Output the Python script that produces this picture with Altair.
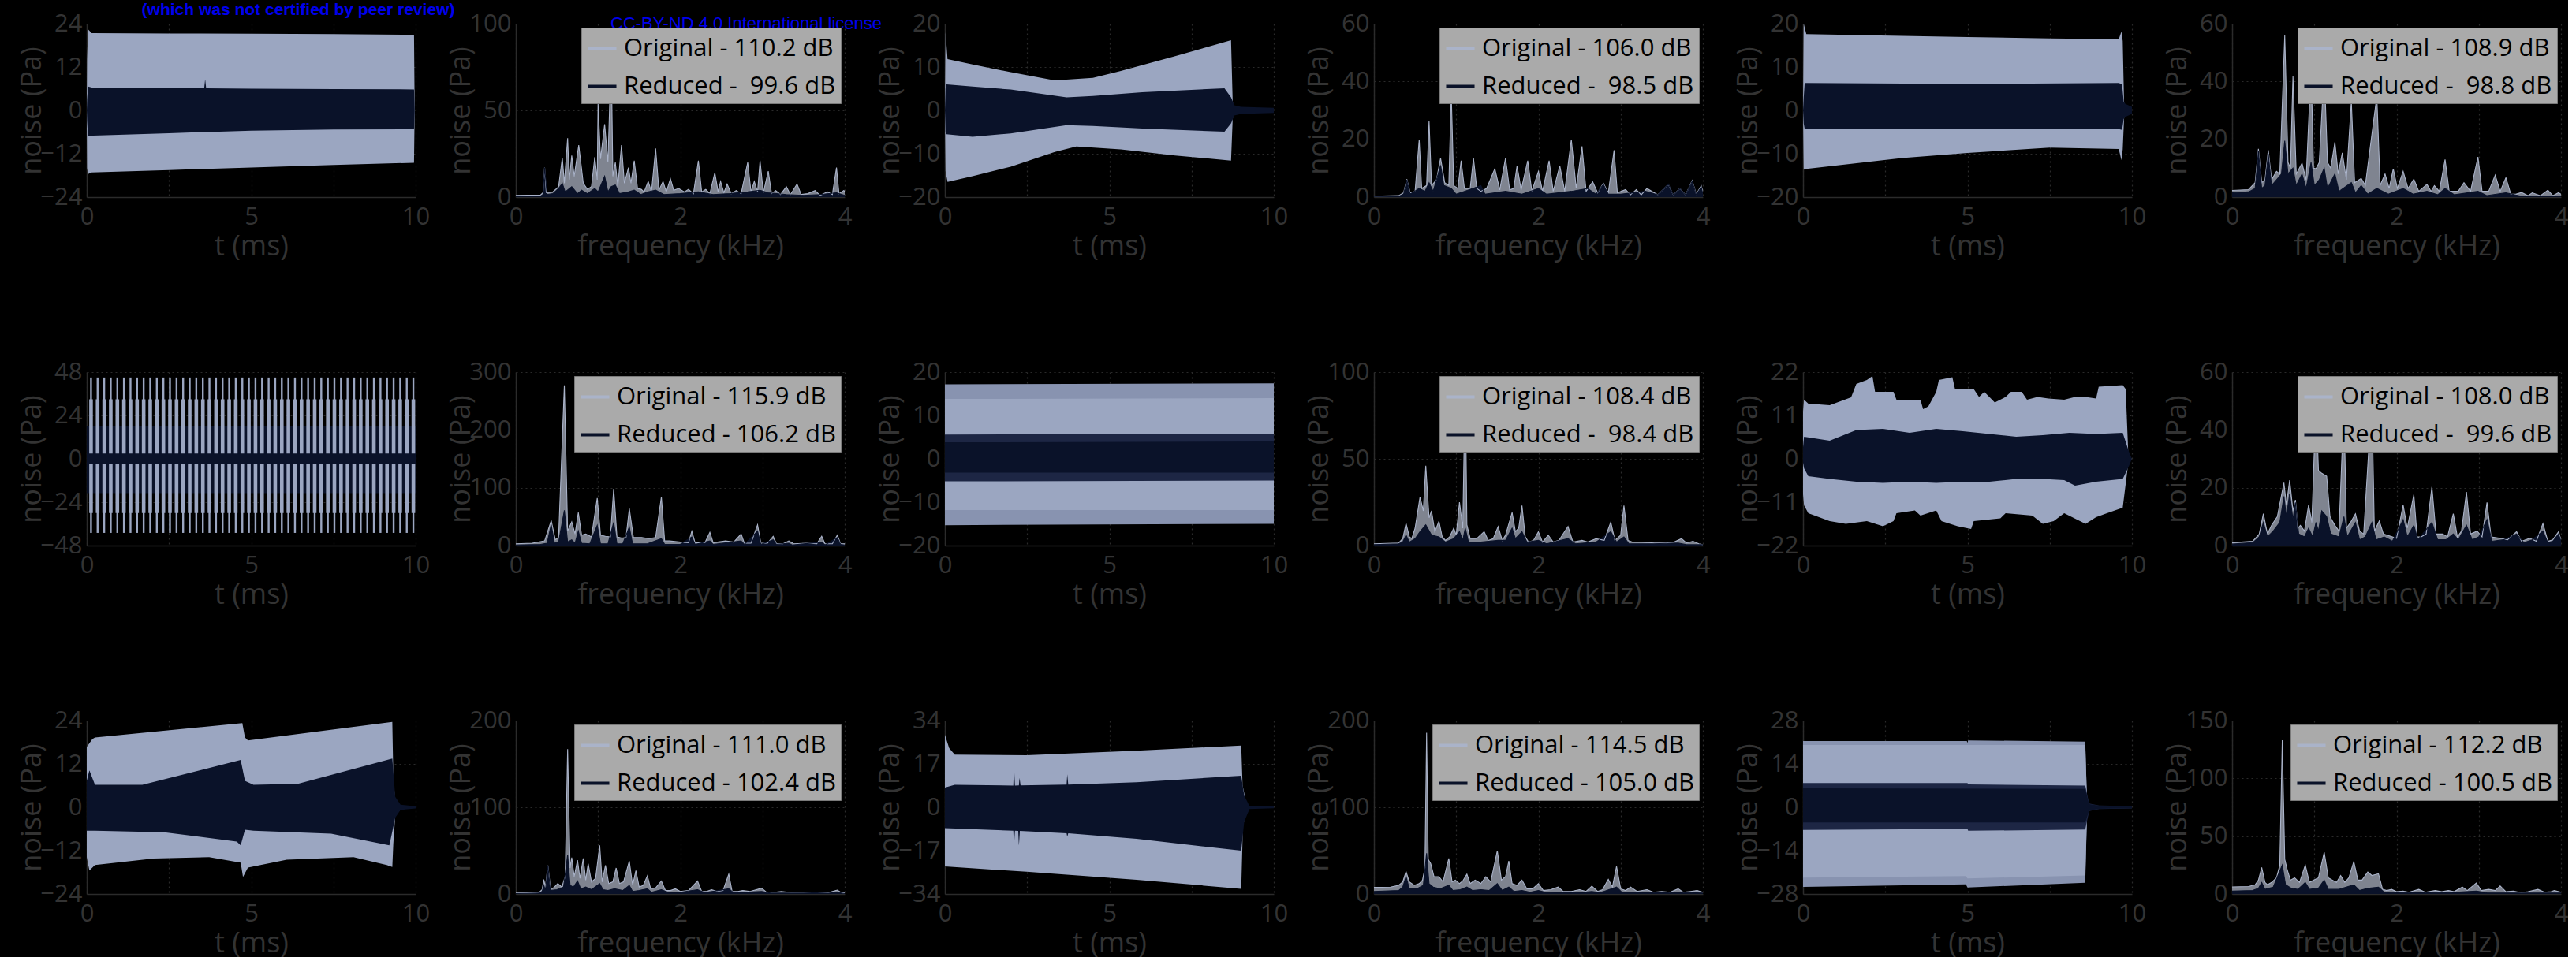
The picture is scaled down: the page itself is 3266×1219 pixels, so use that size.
import altair as alt
import pandas as pd

# ---------------------------------------------------------------- styling
FONT = "Open Sans"
BG = "#000000"
TXT = "#333333"
AXIS_LINE = "#2b2b2b"
GRID = "#2a2a2a"
ORIG_FILL = "#9ba6c1"      # original waveform envelope
ORIG_TEX = "#8893b0"       # textured (fine-oscillation) rim of the original envelope
RED_FILL = "#0a1229"       # reduced waveform envelope
RED_TEX = "#1d2644"
SPEC_FILL = "#7f8490"      # original spectrum
SPEC_LINE = "#aab3c9"
LEG_BG = "#aaaaaa"
LEG_EDGE = "#7a7a7a"
BLUE = "#0000ee"
PANEL_W, PANEL_H = 417, 220

# ---------------------------------------------------------------- preprint header text
HEADER_1 = "(which was not certified by peer review)"
HEADER_2 = "CC-BY-ND 4.0 International license"

# ---------------------------------------------------------------- time signals: envelopes (t in ms, Pa)
T1_ORIG_UP = [(0, 0), (0.01, 14), (0.04, 22.4), (0.15, 21.4), (2.5, 21.3), (5, 21.2), (7.5, 21.1), (9.95, 20.9), (9.97, 0)]
T1_ORIG_LO = [(0, 0), (0.01, -16), (0.04, -17.6), (0.15, -17.2), (2.5, -16.5), (5, -15.8), (7.5, -15.1), (9.95, -14.5), (9.97, 0)]
T1_RED_UP = [(0, 0), (0.01, 3), (0.04, 6.6), (0.2, 6.2), (3.57, 6.1), (3.6, 8.6), (3.63, 6.1), (5, 6.0), (7.5, 5.9), (9.95, 5.8), (9.97, 0)]
T1_RED_LO = [(0, 0), (0.01, -3), (0.04, -7.2), (0.2, -7.0), (2.5, -6.3), (5, -5.6), (7.5, -5.3), (9.95, -5.2), (9.97, 0)]

T2_ORIG_UP = [(0, 0), (0.02, 18), (0.08, 11.8), (0.84, 10.6), (2.0, 8.8), (3.34, 6.9), (4.5, 7.5), (5.35, 9.1), (7.0, 12.5), (8.7, 16.2), (8.75, 2), (8.8, 0)]
T2_ORIG_LO = [(0, 0), (0.02, -14), (0.08, -16.5), (0.84, -15.2), (2.0, -13.0), (3.34, -9.6), (4.0, -8.3), (5.35, -9.0), (7.0, -10.4), (8.7, -11.6), (8.75, -2), (8.8, 0)]
T2_RED_UP = [(0, 0), (0.02, 5), (0.05, 6.0), (0.84, 5.5), (2.0, 4.8), (3.7, 3.0), (4.5, 3.3), (6.0, 4.2), (8.5, 5.1), (8.7, 3.0), (8.8, 1.2), (9.0, 0.8), (10, 0.6)]
T2_RED_LO = [(0, 0), (0.02, -5), (0.05, -5.5), (0.84, -6.1), (2.0, -5.3), (3.7, -3.4), (4.5, -3.6), (6.0, -4.2), (8.5, -4.9), (8.7, -3.0), (8.8, -1.2), (9.0, -0.8), (10, -0.6)]

T3_ORIG_UP = [(0, 0), (0.02, 20), (0.1, 17.6), (3.0, 17.2), (5.0, 16.9), (7.5, 16.6), (9.6, 16.4), (9.68, 18.2), (9.72, 16), (9.76, 2), (9.8, 0)]
T3_ORIG_LO = [(0, 0), (0.02, -13.7), (0.1, -13.5), (3.0, -11.0), (5.0, -9.8), (7.5, -8.6), (9.6, -8.9), (9.68, -11.5), (9.72, -9), (9.76, -2), (9.8, 0)]
T3_RED_UP = [(0, 0), (0.02, 3), (0.05, 6.3), (5, 6.1), (9.6, 6.3), (9.7, 6.0), (9.75, 2.0), (9.8, 1.5), (10, 0.8)]
T3_RED_LO = [(0, 0), (0.02, -3), (0.05, -4.3), (5, -4.3), (9.6, -4.3), (9.7, -4.5), (9.75, -2.0), (9.8, -1.5), (10, -0.8)]

# periodic pressure pulses of the original signal (ms) and their extent (Pa)
T4_SPIKES = [0.13, 0.33, 0.53, 0.73, 0.93, 1.13, 1.33, 1.53, 1.73, 1.93,
             2.13, 2.33, 2.53, 2.73, 2.93, 3.13, 3.33, 3.53, 3.73, 3.93,
             4.13, 4.33, 4.53, 4.73, 4.93, 5.13, 5.33, 5.53, 5.73, 5.93,
             6.13, 6.33, 6.53, 6.73, 6.93, 7.13, 7.33, 7.53, 7.73, 7.93,
             8.13, 8.33, 8.53, 8.73, 8.93, 9.13, 9.33, 9.53, 9.73, 9.93]
T4_SPIKE_FULL = (-41, 45)
T4_SPIKE_BODY = (-30, 33)
T4_RED_UP = [(0, 18), (10, 18)]
T4_RED_LO = [(0, -19), (10, -19)]
T4_RED_CORE_UP = [(0, 3), (10, 3)]
T4_RED_CORE_LO = [(0, -3), (10, -3)]

T5_ORIG_UP_RIM = [(0, 17.2), (10, 17.4)]
T5_ORIG_UP = [(0, 13.8), (10, 14.0)]
T5_ORIG_LO_RIM = [(0, -15.3), (10, -15.0)]
T5_ORIG_LO = [(0, -11.8), (10, -11.8)]
T5_RED_UP_RIM = [(0, 5.6), (10, 5.8)]
T5_RED_UP = [(0, 3.8), (10, 4.0)]
T5_RED_LO_RIM = [(0, -5.2), (10, -5.0)]
T5_RED_LO = [(0, -3.2), (10, -3.2)]

T6_ORIG_UP = [(0, 12), (0.03, 15.0), (0.16, 14.0), (0.81, 13.6), (1.46, 15.6), (1.62, 19.0), (1.94, 20.0), (2.11, 21.0),
              (2.19, 17.0), (2.75, 17.0), (2.84, 15.0), (3.57, 15.0), (3.65, 12.6), (3.81, 13.3), (4.05, 17.0),
              (4.13, 20.0), (4.54, 20.7), (4.62, 17.7), (5.19, 17.7), (5.35, 15.7), (5.51, 17.0), (5.83, 14.3),
              (6.16, 15.7), (6.32, 17.0), (6.65, 17.0), (6.81, 15.0), (7.13, 15.7), (7.46, 15.3), (7.94, 15.0),
              (8.27, 15.7), (8.59, 15.7), (8.91, 15.3), (8.99, 18.3), (9.72, 18.7), (9.81, 17.7), (9.89, 1.0), (10, 0)]
T6_ORIG_LO = [(0, -9), (0.03, -11.8), (0.16, -13.8), (0.81, -15.8), (1.3, -16.5), (1.94, -15.8), (2.43, -17.1),
              (2.75, -15.8), (2.84, -13.8), (3.4, -13.1), (3.57, -14.4), (4.05, -13.1), (4.21, -15.8), (4.7, -17.1),
              (5.11, -17.8), (5.19, -15.8), (6.0, -15.1), (6.16, -13.8), (6.97, -14.4), (7.29, -16.5), (7.62, -15.8),
              (7.94, -13.8), (8.59, -16.5), (8.91, -14.8), (9.24, -13.8), (9.72, -12.4), (9.89, -1.0), (10, 0)]
T6_RED_UP = [(0, 3), (0.03, 5.6), (0.81, 4.6), (1.62, 7.3), (2.43, 7.6), (3.24, 6.6), (4.05, 7.6), (4.86, 7.0),
             (5.67, 6.3), (6.48, 5.6), (7.29, 6.0), (8.1, 6.6), (8.91, 6.3), (9.72, 6.6), (9.9, 2), (10, 0)]
T6_RED_LO = [(0, -1), (0.03, -2.4), (0.16, -4.4), (0.81, -5.1), (1.62, -5.8), (2.43, -6.1), (3.24, -5.8), (4.05, -6.1),
             (4.86, -5.8), (5.67, -5.8), (6.48, -5.1), (7.29, -5.1), (7.94, -5.4), (8.27, -6.8), (8.91, -5.8),
             (9.72, -5.1), (9.9, -2), (10, 0)]

T7_ORIG_UP = [(0, 16.7), (0.17, 18.9), (0.25, 19.3), (4.73, 23.3), (4.81, 19.3), (4.9, 18.5), (9.29, 23.6), (9.32, 8.7),
              (9.38, 1.5), (9.54, 0.4), (10, 0)]
T7_ORIG_LO = [(0, -13.8), (0.08, -17.5), (0.25, -16.0), (2.03, -14.2), (3.72, -13.8), (4.68, -15.3), (4.75, -19.3),
              (4.9, -16.7), (6.08, -14.5), (8.11, -13.8), (9.12, -16.0), (9.29, -16.5), (9.32, -10.2), (9.38, -2.2),
              (9.54, -0.6), (10, 0)]
T7_RED_UP = [(0, 7.3), (0.08, 10.2), (0.25, 6.2), (1.69, 6.2), (4.68, 13.1), (4.81, 7.3), (5.07, 6.2), (6.42, 6.5),
             (9.29, 13.5), (9.38, 2.9), (9.54, 0.7), (10, 0.3)]
T7_RED_LO = [(0, -6.5), (0.25, -6.5), (2.36, -6.9), (4.56, -9.5), (4.68, -10.5), (4.81, -6.2), (5.07, -6.5),
             (7.43, -7.3), (9.2, -10.5), (9.38, -2.9), (9.54, -0.7), (10, -0.3)]

T8_ORIG_UP = [(0, 28.4), (0.13, 23.2), (0.3, 20.6), (2.48, 20.4), (5.83, 22.2), (9.01, 24.2), (9.05, 8.8), (9.18, 0.5), (10, 0)]
T8_ORIG_LO = [(0, -23.2), (2.48, -25.3), (5.83, -28.4), (9.01, -32.0), (9.06, -7.7), (9.18, -0.5), (10, 0)]
T8_RED_UP = [(0, 7.7), (0.3, 8.8), (2.08, 8.5), (2.1, 16.0), (2.13, 8.5), (2.25, 8.6), (2.27, 11.5), (2.3, 8.6),
             (3.7, 8.9), (3.72, 12.9), (3.75, 8.9), (5.83, 9.8), (9.01, 12.4), (9.1, 4.6), (9.26, 0.5), (10, 0.4)]
T8_RED_LO = [(0, -8.2), (2.08, -9.2), (2.1, -15.0), (2.13, -9.2), (2.23, -9.3), (2.25, -15.0), (2.28, -9.3),
             (3.7, -10.2), (3.72, -11.5), (3.75, -10.2), (5.83, -12.4), (9.01, -17.0), (9.1, -5.7), (9.26, -0.7), (10, -0.4)]

T9_ORIG_UP_RIM = [(0, 21.4), (4.98, 21.4), (5.0, 20.8), (5.02, 21.6), (8.58, 21.2), (8.64, 0)]
T9_ORIG_UP = [(0, 20.1), (8.58, 20.1), (8.64, 0)]
T9_ORIG_LO_RIM = [(0, -25.7), (4.95, -24.9), (5.0, -25.9), (8.58, -24.4), (8.64, 0)]
T9_ORIG_LO = [(0, -22.7), (4.95, -22.2), (5.0, -23.0), (8.58, -22.0), (8.64, 0)]
T9_RED_UP_RIM = [(0, 7.8), (5.0, 7.8), (5.02, 7.4), (8.58, 7.0), (8.7, 1.2), (9.0, 0.6), (10, 0.4)]
T9_RED_UP = [(0, 6.1), (8.58, 5.9), (8.7, 1.0), (9.0, 0.5), (10, 0.3)]
T9_RED_LO_RIM = [(0, -7.3), (5.0, -7.0), (5.02, -7.6), (8.58, -7.2), (8.7, -1.2), (9.0, -0.6), (10, -0.4)]
T9_RED_LO = [(0, -4.9), (8.58, -4.9), (8.7, -1.0), (9.0, -0.5), (10, -0.3)]

# ---------------------------------------------------------------- spectra (f in kHz, amplitude in Pa)
F1_ORIG = [(0, 1.0), (0.3, 1.2), (0.33, 2.5), (0.35, 17), (0.37, 2.5), (0.45, 3), (0.52, 6), (0.565, 22.7), (0.59, 8),
           (0.63, 34), (0.65, 10), (0.68, 24), (0.71, 12), (0.765, 30), (0.82, 8), (0.87, 4.5), (0.92, 6), (0.96, 23),
           (0.99, 10), (1.0, 54), (1.03, 22), (1.08, 42), (1.12, 20), (1.16, 83), (1.18, 12), (1.21, 20), (1.24, 6),
           (1.285, 30), (1.32, 8), (1.37, 17), (1.40, 8), (1.44, 21), (1.48, 5), (1.525, 4.5), (1.56, 3), (1.61, 9),
           (1.65, 3), (1.70, 28), (1.74, 4), (1.79, 9), (1.83, 3), (1.88, 10.6), (1.92, 4), (1.98, 5), (2.05, 3),
           (2.10, 4.5), (2.16, 2), (2.22, 21), (2.26, 3), (2.31, 4.5), (2.36, 2), (2.42, 14), (2.46, 3), (2.49, 9),
           (2.53, 2.5), (2.57, 7.5), (2.62, 2), (2.68, 3.8), (2.74, 2), (2.82, 20), (2.86, 3), (2.90, 9), (2.94, 3),
           (2.97, 21), (3.01, 2.5), (3.07, 15), (3.11, 2), (3.16, 3.8), (3.22, 1.5), (3.29, 6), (3.34, 1.5), (3.42, 7.5),
           (3.47, 1.5), (3.55, 2), (3.64, 3.8), (3.70, 1), (3.79, 3), (3.85, 1.5), (3.90, 17), (3.93, 2), (3.99, 3.8), (4.0, 3)]
F1_RED = [(0, 0.5), (0.3, 0.6), (0.33, 1.5), (0.35, 17), (0.38, 1.5), (0.45, 2), (0.52, 5), (0.565, 8), (0.6, 3),
          (0.68, 6), (0.75, 2), (0.8, 4), (0.87, 2), (0.96, 5), (1.0, 3), (1.08, 12), (1.12, 3), (1.16, 6), (1.21, 7),
          (1.26, 2), (1.37, 3), (1.44, 4), (1.52, 1.5), (1.61, 3), (1.70, 4), (1.8, 1.5), (2.0, 2), (2.22, 3), (2.4, 1.5),
          (2.6, 2), (2.82, 3), (2.97, 4), (3.07, 2.5), (3.29, 1.5), (3.5, 1), (3.7, 1.5), (3.9, 2.5), (4.0, 1)]

F2_ORIG = [(0, 0.3), (0.3, 0.5), (0.36, 1.5), (0.40, 6.2), (0.44, 1.5), (0.5, 2), (0.55, 19.9), (0.58, 3), (0.64, 4),
           (0.67, 26.3), (0.70, 4), (0.76, 6), (0.81, 13.5), (0.86, 5), (0.91, 4), (0.94, 36), (0.97, 4), (1.02, 3),
           (1.06, 12.6), (1.10, 3), (1.17, 3), (1.21, 13.5), (1.25, 3), (1.3, 2), (1.37, 3), (1.47, 9.8), (1.53, 2.5),
           (1.60, 13.5), (1.65, 2.5), (1.70, 3), (1.74, 10.8), (1.79, 2.5), (1.87, 12.6), (1.92, 2), (2.0, 8.9),
           (2.05, 2), (2.13, 12.6), (2.18, 2), (2.26, 10.8), (2.32, 2), (2.40, 19.9), (2.46, 3), (2.53, 17.6),
           (2.58, 2), (2.66, 5.3), (2.72, 1.5), (2.79, 4.8), (2.85, 1.5), (2.92, 16.2), (2.96, 1.5), (3.06, 2.6),
           (3.12, 0.8), (3.19, 2.6), (3.25, 0.8), (3.32, 3), (3.45, 0.8), (3.58, 4.4), (3.64, 0.8), (3.72, 3),
           (3.79, 0.8), (3.87, 5.7), (3.92, 1), (3.98, 3.9), (4.0, 2)]
F2_RED = [(0, 0.2), (0.3, 0.3), (0.36, 1), (0.40, 6), (0.44, 1), (0.55, 3), (0.62, 2), (0.67, 5), (0.72, 2), (0.78, 8),
          (0.81, 11), (0.85, 4), (0.94, 3), (1.0, 1), (1.1, 2), (1.3, 4), (1.35, 1), (1.6, 2), (1.8, 1), (2.0, 3),
          (2.1, 1), (2.4, 2), (2.6, 3), (2.7, 1), (2.79, 4.4), (2.85, 1), (3.0, 1), (3.3, 2), (3.45, 0.8), (3.58, 4.5),
          (3.64, 0.8), (3.72, 3), (3.79, 0.8), (3.87, 5.5), (3.92, 0.8), (3.98, 3.5), (4.0, 1)]

F3_ORIG = [(0, 2.3), (0.2, 2.6), (0.28, 5), (0.32, 16.7), (0.36, 5), (0.40, 6), (0.44, 16.2), (0.48, 6), (0.54, 8.9),
           (0.58, 8), (0.64, 55.9), (0.68, 12), (0.71, 10), (0.74, 41.8), (0.78, 8), (0.85, 11.7), (0.90, 6),
           (0.96, 44.9), (0.99, 10), (1.02, 9.8), (1.06, 12), (1.12, 44.5), (1.16, 12), (1.20, 10), (1.25, 19),
           (1.29, 8), (1.34, 15.3), (1.39, 6), (1.45, 33.1), (1.49, 5), (1.57, 6.5), (1.62, 4), (1.76, 34.9), (1.80, 4),
           (1.86, 8), (1.91, 3), (1.96, 9.8), (2.01, 3), (2.08, 8.9), (2.14, 3), (2.21, 6.2), (2.27, 2), (2.37, 4.4),
           (2.42, 2), (2.46, 4), (2.52, 2), (2.59, 13), (2.64, 2), (2.75, 2), (2.82, 5), (2.9, 2), (2.99, 13.9),
           (3.04, 2), (3.12, 2), (3.2, 7.6), (3.26, 2), (3.33, 6.7), (3.39, 1), (3.45, 1), (3.52, 1.6), (3.6, 0.5),
           (3.65, 1.5), (3.75, 0.5), (3.84, 2.4), (3.9, 0.5), (3.97, 1.5), (4.0, 1)]
F3_RED = [(0, 1.5), (0.2, 1.8), (0.28, 3), (0.32, 16), (0.36, 3), (0.40, 4), (0.44, 15), (0.48, 4), (0.54, 6), (0.6, 8),
          (0.64, 19.5), (0.68, 8), (0.74, 10), (0.78, 4), (0.85, 8), (0.9, 3), (0.96, 12), (1.0, 4), (1.06, 6),
          (1.12, 10), (1.16, 3), (1.25, 8), (1.3, 2), (1.45, 5), (1.5, 1.5), (1.57, 4), (1.65, 1), (1.76, 3), (1.9, 1),
          (2.08, 3), (2.2, 1), (2.37, 2), (2.5, 0.8), (2.59, 3), (2.7, 0.8), (2.99, 2), (3.1, 0.5), (3.33, 1.5),
          (3.5, 0.4), (4.0, 0.4)]

F4_ORIG = [(0, 3), (0.2, 4), (0.35, 8), (0.43, 43), (0.48, 10), (0.52, 14), (0.59, 277), (0.63, 25), (0.68, 41),
           (0.72, 20), (0.76, 57), (0.80, 18), (0.85, 20), (0.92, 15), (0.99, 82), (1.03, 18), (1.09, 16), (1.15, 15),
           (1.19, 98), (1.23, 15), (1.29, 13), (1.34, 14), (1.38, 64), (1.43, 14), (1.53, 14), (1.62, 12), (1.70, 14),
           (1.77, 84), (1.81, 8), (1.87, 8), (2.0, 6), (2.1, 5), (2.14, 25), (2.18, 5), (2.3, 5), (2.36, 23), (2.4, 5),
           (2.55, 8), (2.65, 6), (2.74, 20), (2.78, 4), (2.86, 4), (2.94, 36), (2.98, 4), (3.06, 4), (3.13, 16),
           (3.17, 3), (3.25, 3), (3.32, 8), (3.38, 3), (3.54, 4), (3.66, 3), (3.72, 16), (3.76, 3), (3.85, 3),
           (3.91, 18), (3.95, 3), (4.0, 3)]
F4_RED = [(0, 1), (0.3, 2), (0.38, 4), (0.43, 36), (0.47, 4), (0.52, 6), (0.59, 61), (0.63, 6), (0.68, 10), (0.72, 4),
          (0.76, 25), (0.80, 4), (0.9, 3), (0.99, 35), (1.03, 3), (1.12, 3), (1.19, 40), (1.23, 3), (1.3, 3),
          (1.38, 32), (1.42, 3), (1.6, 3), (1.77, 12), (1.81, 2), (2.0, 2), (2.14, 15), (2.18, 2), (2.36, 8), (2.4, 2),
          (2.74, 8), (2.78, 2), (2.94, 25), (2.98, 2), (3.13, 10), (3.17, 2), (3.32, 4), (3.36, 1), (3.72, 6),
          (3.76, 1), (3.91, 14), (3.95, 2), (4.0, 1)]

F5_ORIG = [(0, 1), (0.3, 1.5), (0.35, 4), (0.39, 12.8), (0.43, 5), (0.46, 4), (0.5, 10), (0.56, 28), (0.60, 20),
           (0.63, 46), (0.67, 16), (0.70, 20), (0.74, 8), (0.79, 14), (0.83, 5), (0.87, 3), (0.92, 5), (0.97, 10),
           (1.0, 6), (1.04, 25), (1.08, 10), (1.11, 98), (1.13, 12), (1.17, 4), (1.25, 4), (1.34, 8), (1.39, 3),
           (1.45, 4), (1.51, 11), (1.56, 3), (1.6, 6), (1.68, 19), (1.72, 8), (1.76, 10), (1.80, 23), (1.84, 5),
           (1.88, 2), (1.94, 3), (2.0, 8), (2.05, 2), (2.12, 6), (2.18, 2), (2.25, 3), (2.36, 11), (2.42, 2),
           (2.53, 3), (2.6, 2), (2.7, 4), (2.8, 3), (2.88, 13.5), (2.93, 3), (3.0, 6), (3.04, 23), (3.09, 3),
           (3.14, 2), (3.25, 2), (3.41, 1.5), (3.55, 1.5), (3.65, 2), (3.74, 4), (3.8, 1.5), (3.88, 2.5), (3.95, 1),
           (4.0, 0.5)]
F5_RED = [(0, 0.5), (0.3, 1), (0.35, 2), (0.39, 6), (0.43, 2), (0.5, 4), (0.56, 8), (0.63, 12), (0.7, 6), (0.79, 5),
          (0.87, 2), (0.97, 4), (1.04, 8), (1.08, 3), (1.11, 10), (1.15, 2), (1.3, 2), (1.51, 3), (1.6, 3),
          (1.68, 10), (1.72, 4), (1.80, 8), (1.86, 2), (2.0, 3), (2.1, 1), (2.36, 4), (2.45, 1), (2.7, 2), (2.88, 8),
          (2.95, 2), (3.04, 5), (3.1, 1), (3.4, 1), (3.7, 1.5), (3.8, 0.5), (4.0, 0.5)]

F6_ORIG = [(0, 1), (0.25, 1.5), (0.33, 4), (0.38, 11), (0.43, 4), (0.48, 7), (0.55, 10), (0.63, 21.7), (0.66, 14),
           (0.70, 22.6), (0.74, 12), (0.77, 15.8), (0.80, 6), (0.83, 7), (0.88, 5), (0.93, 14), (0.97, 8),
           (1.02, 50.4), (1.05, 26), (1.09, 25), (1.15, 24), (1.19, 10), (1.25, 7), (1.30, 5), (1.36, 49), (1.39, 6),
           (1.44, 8), (1.5, 11), (1.55, 5), (1.6, 4), (1.70, 51.3), (1.73, 5), (1.79, 8.5), (1.84, 4), (1.95, 3),
           (2.0, 2.5), (2.08, 14), (2.13, 6), (2.21, 17.6), (2.25, 3), (2.30, 3), (2.36, 4), (2.43, 20.3), (2.48, 4),
           (2.56, 4), (2.62, 3), (2.69, 11), (2.74, 3), (2.79, 5), (2.85, 18.5), (2.90, 4), (2.98, 5), (3.04, 3),
           (3.10, 14.9), (3.15, 3), (3.26, 2.5), (3.35, 2), (3.46, 4.8), (3.52, 1.5), (3.62, 2.5), (3.7, 1.5),
           (3.78, 7.6), (3.84, 1.5), (3.9, 2), (3.97, 4.8), (4.0, 2)]
F6_RED = [(0, 0.5), (0.25, 1), (0.33, 3), (0.38, 8), (0.43, 3), (0.5, 5), (0.58, 8), (0.63, 17), (0.66, 10),
          (0.70, 18), (0.74, 9), (0.77, 14.9), (0.81, 4), (0.88, 3), (0.93, 6), (0.98, 3), (1.02, 8), (1.05, 5),
          (1.09, 12), (1.15, 10), (1.2, 4), (1.3, 3), (1.36, 10), (1.4, 3), (1.5, 8), (1.55, 2), (1.62, 3), (1.70, 8),
          (1.75, 2), (1.85, 3), (1.95, 1.5), (2.08, 9), (2.13, 3), (2.21, 7), (2.26, 2), (2.43, 8), (2.5, 2), (2.6, 2),
          (2.69, 4), (2.75, 2), (2.85, 7), (2.92, 2), (3.0, 3), (3.10, 9), (3.16, 1.5), (3.3, 2), (3.46, 4),
          (3.55, 1), (3.65, 2), (3.78, 5), (3.84, 1), (3.9, 1.5), (3.97, 4), (4.0, 1.5)]

F7_ORIG = [(0, 1), (0.28, 1.5), (0.32, 5), (0.34, 16.7), (0.36, 8), (0.39, 33), (0.42, 8), (0.44, 6), (0.47, 8),
           (0.51, 12), (0.56, 8), (0.60, 20), (0.63, 167), (0.66, 30), (0.68, 42), (0.71, 20), (0.75, 39), (0.78, 18),
           (0.82, 41), (0.85, 16), (0.88, 35), (0.92, 14), (0.97, 18), (1.02, 56), (1.05, 14), (1.09, 33), (1.13, 12),
           (1.18, 14), (1.22, 30), (1.26, 12), (1.31, 14), (1.38, 38), (1.42, 10), (1.46, 27), (1.5, 8), (1.55, 10),
           (1.60, 21), (1.64, 6), (1.70, 7), (1.77, 15), (1.82, 4), (1.88, 4), (1.94, 6), (2.0, 3), (2.1, 4),
           (2.21, 15), (2.26, 3), (2.32, 3), (2.38, 5), (2.45, 3), (2.52, 4), (2.59, 23), (2.63, 3), (2.7, 3),
           (2.76, 4), (2.85, 3), (2.99, 6.7), (3.05, 2), (3.15, 2), (3.23, 3), (3.35, 1.5), (3.5, 2), (3.64, 1.5),
           (3.8, 1.5), (3.91, 4.5), (3.96, 1.5), (4.0, 1)]
F7_RED = [(0, 0.5), (0.28, 1), (0.32, 3), (0.34, 10), (0.36, 4), (0.39, 33), (0.42, 4), (0.5, 5), (0.58, 8),
          (0.63, 45), (0.66, 10), (0.7, 8), (0.75, 15), (0.79, 6), (0.85, 8), (0.92, 5), (1.02, 12), (1.06, 5),
          (1.12, 4), (1.2, 6), (1.3, 4), (1.38, 10), (1.42, 3), (1.5, 4), (1.6, 6), (1.65, 2), (1.77, 5), (1.85, 2),
          (2.0, 2), (2.21, 5), (2.3, 1.5), (2.59, 6), (2.65, 1.5), (2.99, 3), (3.1, 1), (3.5, 1), (3.91, 2), (4.0, 0.5)]

F8_ORIG = [(0, 7.6), (0.2, 8), (0.3, 10), (0.35, 14), (0.39, 25.8), (0.43, 14), (0.49, 10), (0.55, 12), (0.59, 16),
           (0.62, 30), (0.64, 186), (0.66, 40), (0.69, 35), (0.73, 20), (0.79, 20), (0.84, 14), (0.91, 41), (0.95, 14),
           (0.99, 16), (1.04, 12), (1.08, 15), (1.13, 23), (1.17, 12), (1.23, 16), (1.30, 12), (1.36, 20), (1.42, 14),
           (1.50, 50), (1.55, 16), (1.6, 20), (1.64, 38), (1.68, 12), (1.74, 10), (1.80, 16), (1.86, 6), (1.93, 6),
           (2.0, 12), (2.06, 4), (2.15, 5), (2.24, 8), (2.3, 3), (2.4, 3), (2.5, 5), (2.58, 3), (2.65, 9), (2.72, 3),
           (2.78, 5), (2.85, 17), (2.90, 8), (2.95, 32), (3.0, 6), (3.06, 4), (3.12, 8), (3.2, 3), (3.32, 5), (3.4, 2),
           (3.5, 3), (3.6, 2), (3.7, 6), (3.76, 2), (3.85, 3), (3.93, 4), (4.0, 2)]
F8_RED = [(0, 3), (0.3, 4), (0.35, 8), (0.39, 20), (0.43, 6), (0.52, 6), (0.6, 10), (0.64, 47), (0.67, 12), (0.72, 8),
          (0.8, 6), (0.91, 10), (0.96, 4), (1.05, 5), (1.13, 8), (1.2, 4), (1.3, 5), (1.4, 4), (1.5, 12), (1.56, 4),
          (1.64, 8), (1.7, 3), (1.8, 4), (1.9, 2), (2.0, 4), (2.1, 1.5), (2.3, 2), (2.5, 1.5), (2.65, 3), (2.75, 1.5),
          (2.95, 8), (3.02, 1.5), (3.3, 1.5), (3.7, 2), (4.0, 1)]

F9_ORIG = [(0, 6.1), (0.2, 6.5), (0.28, 8), (0.32, 12), (0.36, 23), (0.40, 10), (0.43, 8), (0.48, 10), (0.54, 14),
           (0.58, 25), (0.61, 133), (0.64, 30), (0.67, 21), (0.71, 12), (0.76, 14), (0.82, 10), (0.89, 25), (0.94, 10),
           (0.99, 12), (1.05, 14), (1.12, 36), (1.17, 14), (1.22, 12), (1.27, 10), (1.32, 16), (1.37, 10), (1.42, 14),
           (1.48, 28), (1.53, 12), (1.58, 12), (1.65, 19), (1.7, 16), (1.78, 17.5), (1.83, 4), (1.88, 3), (1.94, 4),
           (2.0, 2), (2.08, 2.5), (2.15, 1.5), (2.27, 4), (2.35, 1.5), (2.47, 3), (2.55, 2), (2.63, 3), (2.7, 2),
           (2.8, 6), (2.86, 3), (2.97, 9.5), (3.03, 3), (3.12, 4), (3.2, 3), (3.26, 7), (3.33, 2), (3.42, 2.5),
           (3.52, 1), (3.6, 2), (3.72, 4), (3.8, 1.5), (3.88, 2), (3.92, 3), (4.0, 1.5)]
F9_RED = [(0, 2.5), (0.25, 3), (0.32, 5), (0.36, 10), (0.40, 4), (0.5, 6), (0.61, 25), (0.65, 8), (0.72, 5), (0.8, 4),
          (0.89, 10), (0.94, 4), (1.05, 5), (1.12, 12), (1.17, 4), (1.3, 4), (1.48, 8), (1.55, 3), (1.65, 5),
          (1.78, 6), (1.85, 1.5), (2.0, 1), (2.3, 1.5), (2.6, 1), (2.97, 2.5), (3.1, 1), (3.5, 0.8), (4.0, 0.8)]

# overall levels quoted in each spectrum legend (dB)
LEVEL_ORIG = ["110.2", "106.0", "108.9", "115.9", "108.4", "108.0", "111.0", "114.5", "112.2"]
LEVEL_RED = ["99.6", "98.5", "98.8", "106.2", "98.4", "99.6", "102.4", "105.0", "100.5"]

# axis ranges of each panel
TIME_LIM = [24, 20, 20, 48, 20, 22, 24, 34, 28]
SPEC_MAX = [100, 60, 60, 300, 100, 60, 200, 200, 150]
SPEC_STEP = [50, 20, 20, 100, 50, 20, 100, 100, 50]


# ---------------------------------------------------------------- builders
def time_enc(lim):
    x = alt.X("t:Q", scale=alt.Scale(domain=[0, 10], nice=False, zero=False),
              axis=alt.Axis(values=[0, 2.5, 5, 7.5, 10], format="d", title="t (ms)",
                            labelExpr="datum.value % 5 === 0 ? datum.label : ''"))
    y = alt.Y("v:Q", scale=alt.Scale(domain=[-lim, lim], nice=False, zero=False),
              axis=alt.Axis(values=[-lim, -lim / 2, 0, lim / 2, lim], format="d", title="noise (Pa)"))
    return x, y


def band(points, color, x, y):
    df = pd.DataFrame(points, columns=["t", "v"])
    return alt.Chart(df).mark_area(color=color, clip=True).encode(x=x, y=y, y2=alt.datum(0))


def time_panel(i, layers):
    x, y = time_enc(TIME_LIM[i])
    charts = [band(p, c, x, y) for p, c in layers]
    return charts, x, y


def spec_panel(i, orig, red):
    ymax, step = SPEC_MAX[i], SPEC_STEP[i]
    x = alt.X("f:Q", scale=alt.Scale(domain=[0, 4], nice=False, zero=False),
              axis=alt.Axis(values=[0, 1, 2, 3, 4], format="d", title="frequency (kHz)",
                            labelExpr="datum.value % 2 === 0 ? datum.label : ''"))
    y = alt.Y("a:Q", scale=alt.Scale(domain=[0, ymax], nice=False, zero=False),
              axis=alt.Axis(values=list(range(0, ymax + 1, step)), format="d", title="noise (Pa)"))
    lab_o = f"Original - {LEVEL_ORIG[i]} dB"
    lab_r = f"Reduced - {LEVEL_RED[i]} dB" if len(LEVEL_RED[i]) == 5 else f"Reduced - \u00a0{LEVEL_RED[i]} dB"
    d_o = pd.DataFrame(orig, columns=["f", "a"])
    d_o["s"] = lab_o
    d_r = pd.DataFrame(red, columns=["f", "a"])
    d_r["s"] = lab_r
    area_o = alt.Chart(d_o).mark_area(color=SPEC_FILL, clip=True).encode(x=x, y=y, y2=alt.datum(0))
    area_r = alt.Chart(d_r).mark_area(color=RED_FILL, clip=True).encode(x=x, y=y, y2=alt.datum(0))
    lines = alt.Chart(pd.concat([d_o, d_r], ignore_index=True)).mark_line(clip=True, strokeWidth=1.1).encode(
        x=x, y=y,
        stroke=alt.Stroke("s:N", scale=alt.Scale(domain=[lab_o, lab_r], range=[SPEC_LINE, RED_FILL]),
                          legend=alt.Legend(title=None, orient="top-right", offset=5, direction="vertical",
                                            fillColor=LEG_BG, strokeColor=LEG_EDGE, padding=6,
                                            labelFont=FONT, labelFontSize=31, labelColor="#000000",
                                            labelLimit=500, labelOffset=7, rowPadding=12,
                                            symbolType="stroke", symbolStrokeWidth=4, symbolSize=1300)))
    return alt.layer(area_o, area_r, lines).properties(width=PANEL_W, height=PANEL_H)


def finish(charts):
    return alt.layer(*charts).properties(width=PANEL_W, height=PANEL_H)


# ---------------------------------------------------------------- time panels
t1, x1, y1 = time_panel(0, [(T1_ORIG_UP, ORIG_FILL), (T1_ORIG_LO, ORIG_FILL), (T1_RED_UP, RED_FILL), (T1_RED_LO, RED_FILL)])
hdr1 = alt.Chart(pd.DataFrame({"s": [HEADER_1]})).mark_text(
    font="Liberation Sans", fontSize=21, fontWeight="bold", color=BLUE, align="center", baseline="alphabetic"
).encode(x=alt.value(268), y=alt.value(-11), text="s:N")
hdr2 = alt.Chart(pd.DataFrame({"s": [HEADER_2]})).mark_text(
    font="Liberation Sans", fontSize=22, color=BLUE, align="left", baseline="alphabetic"
).encode(x=alt.value(664), y=alt.value(7), text="s:N")
T1 = finish(t1 + [hdr1, hdr2])

T2 = finish(time_panel(1, [(T2_ORIG_UP, ORIG_FILL), (T2_ORIG_LO, ORIG_FILL), (T2_RED_UP, RED_FILL), (T2_RED_LO, RED_FILL)])[0])
T3 = finish(time_panel(2, [(T3_ORIG_UP, ORIG_FILL), (T3_ORIG_LO, ORIG_FILL), (T3_RED_UP, RED_FILL), (T3_RED_LO, RED_FILL)])[0])

t4, x4, y4 = time_panel(3, [(T4_RED_UP, RED_FILL), (T4_RED_LO, RED_FILL)])
n_spk = len(T4_SPIKES)
spk_full = pd.DataFrame({"t": T4_SPIKES, "v": [T4_SPIKE_FULL[0]] * n_spk, "v2": [T4_SPIKE_FULL[1]] * n_spk})
spk_body = pd.DataFrame({"t": T4_SPIKES, "v": [T4_SPIKE_BODY[0]] * n_spk, "v2": [T4_SPIKE_BODY[1]] * n_spk})
r_full = alt.Chart(spk_full).mark_rule(color=ORIG_FILL, strokeWidth=2.4, clip=True).encode(x=x4, y=y4, y2="v2:Q")
r_body = alt.Chart(spk_body).mark_rule(color=ORIG_FILL, strokeWidth=4.6, clip=True).encode(x=x4, y=y4, y2="v2:Q")
core = [band(T4_RED_CORE_UP, RED_FILL, x4, y4), band(T4_RED_CORE_LO, RED_FILL, x4, y4)]
T4 = finish(t4 + [r_full, r_body] + core)

T5 = finish(time_panel(4, [(T5_ORIG_UP_RIM, ORIG_TEX), (T5_ORIG_LO_RIM, ORIG_TEX), (T5_ORIG_UP, ORIG_FILL), (T5_ORIG_LO, ORIG_FILL),
                           (T5_RED_UP_RIM, RED_TEX), (T5_RED_LO_RIM, RED_TEX), (T5_RED_UP, RED_FILL), (T5_RED_LO, RED_FILL)])[0])
T6 = finish(time_panel(5, [(T6_ORIG_UP, ORIG_FILL), (T6_ORIG_LO, ORIG_FILL), (T6_RED_UP, RED_FILL), (T6_RED_LO, RED_FILL)])[0])
T7 = finish(time_panel(6, [(T7_ORIG_UP, ORIG_FILL), (T7_ORIG_LO, ORIG_FILL), (T7_RED_UP, RED_FILL), (T7_RED_LO, RED_FILL)])[0])
T8 = finish(time_panel(7, [(T8_ORIG_UP, ORIG_FILL), (T8_ORIG_LO, ORIG_FILL), (T8_RED_UP, RED_FILL), (T8_RED_LO, RED_FILL)])[0])
T9 = finish(time_panel(8, [(T9_ORIG_UP_RIM, ORIG_TEX), (T9_ORIG_LO_RIM, ORIG_TEX), (T9_ORIG_UP, ORIG_FILL), (T9_ORIG_LO, ORIG_FILL),
                           (T9_RED_UP_RIM, RED_TEX), (T9_RED_LO_RIM, RED_TEX), (T9_RED_UP, RED_FILL), (T9_RED_LO, RED_FILL)])[0])

# ---------------------------------------------------------------- spectrum panels
F1 = spec_panel(0, F1_ORIG, F1_RED)
F2 = spec_panel(1, F2_ORIG, F2_RED)
F3 = spec_panel(2, F3_ORIG, F3_RED)
F4 = spec_panel(3, F4_ORIG, F4_RED)
F5 = spec_panel(4, F5_ORIG, F5_RED)
F6 = spec_panel(5, F6_ORIG, F6_RED)
F7 = spec_panel(6, F7_ORIG, F7_RED)
F8 = spec_panel(7, F8_ORIG, F8_RED)
F9 = spec_panel(8, F9_ORIG, F9_RED)

panels = [T1, F1, T2, F2, T3, F3,
          T4, F4, T5, F5, T6, F6,
          T7, F7, T8, F8, T9, F9]

chart = alt.concat(*panels, columns=6, spacing={"row": 222, "column": 127}, bounds="flush")
chart = chart.resolve_scale(x="independent", y="independent", stroke="independent").resolve_legend(stroke="independent")
chart = chart.properties(background=BG, padding={"left": 22, "top": 2, "right": 0, "bottom": 0})
chart = chart.configure_view(strokeWidth=0).configure_axis(
    labelFont=FONT, labelFontSize=31, labelColor=TXT,
    titleFont=FONT, titleFontSize=36, titleColor=TXT, titleFontWeight="normal",
    domainColor=AXIS_LINE, domainWidth=1.5,
    grid=True, gridColor=GRID, gridDash=[2, 4], gridWidth=1.2,
    ticks=False, labelFlush=False, labelOverlap=False,
).configure_axisX(
    labelPadding=10, titleY=62, titleBaseline="middle",
).configure_axisY(
    labelPadding=6, titleX=-70, titleY=110, titleAngle=270, titleAlign="center", titleBaseline="middle",
)

chart.save("out.html", embed_options={"renderer": "svg", "actions": False})
